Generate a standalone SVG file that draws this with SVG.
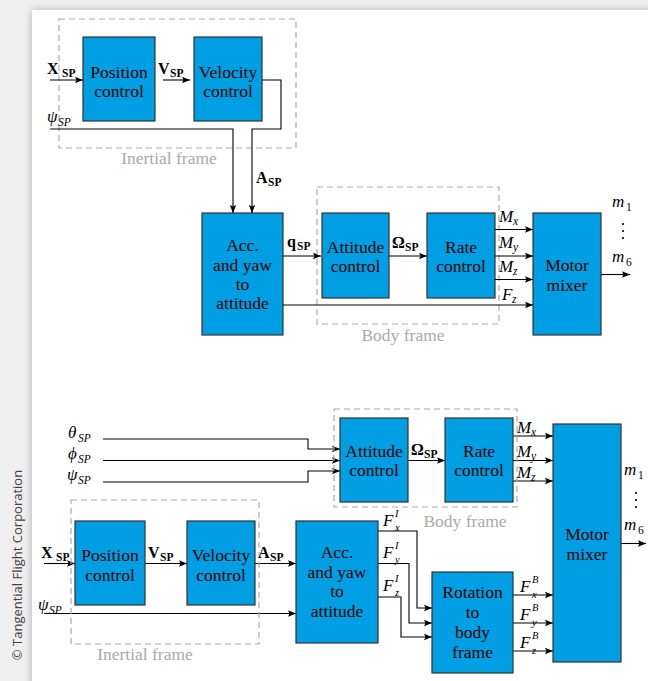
<svg xmlns="http://www.w3.org/2000/svg" width="648" height="681" viewBox="0 0 648 681">
<defs>
<marker id="arr" markerUnits="userSpaceOnUse" markerWidth="10" markerHeight="8" refX="8" refY="4" orient="auto">
<path d="M0,0.8 L8,4 L0,7.2 L1.5,4 z" fill="#000"/>
</marker>
<filter id="sh" x="-5%" y="-5%" width="110%" height="110%"><feGaussianBlur stdDeviation="4"/></filter>
<style>
.box{fill:#009fe3;stroke:#333;stroke-width:1.2}
.frame{fill:none;stroke:#aaa;stroke-width:1.2;stroke-dasharray:6 4}
.c{fill:none;stroke:#000;stroke-width:1.1;marker-end:url(#arr)}
text{font-family:'Liberation Serif','DejaVu Serif','Times New Roman',serif}
.t{font-size:17.5px;fill:#000;text-anchor:middle}
.fl{font-size:17.5px;fill:#aaa;text-anchor:middle}
.mi{font-size:17px;font-style:italic;fill:#000}
.ms{font-size:11.5px;font-style:italic;fill:#000}
.sm{font-size:10.5px;font-style:italic;fill:#000}
.bf{font-size:16px;font-weight:bold;fill:#000}
.bs{font-size:11.5px;font-weight:bold;fill:#000}
text.cp{font-family:'Open Sans','DejaVu Sans',sans-serif;font-size:13px;fill:#444;text-anchor:middle}
</style>
</defs>
<rect x="0" y="0" width="648" height="681" fill="#efefef"/>
<rect x="32" y="10" width="640" height="700" fill="#000" opacity="0.25" filter="url(#sh)"/>
<rect x="32" y="10" width="640" height="700" fill="#fff"/>
<text class="cp" transform="translate(22,565) rotate(-90)">© Tangential Flight Corporation</text>

<g id="top-inertial-frame">
<rect class="frame" x="59" y="19" width="237" height="129"/>
<text class="fl" x="169" y="164">Inertial frame</text>
</g>
<g id="top-body-frame">
<rect class="frame" x="317" y="187" width="182" height="137"/>
<text class="fl" x="403" y="341">Body frame</text>
</g>
<g id="top-position-control">
<rect class="box" x="83" y="37" width="72" height="84"/>
<text class="t" x="119" y="77.5">Position</text>
<text class="t" x="119" y="97">control</text>
</g>
<g id="top-velocity-control">
<rect class="box" x="194" y="37" width="68" height="84"/>
<text class="t" x="228" y="77.5">Velocity</text>
<text class="t" x="228" y="97">control</text>
</g>
<g id="top-acc-yaw">
<rect class="box" x="202" y="213" width="81" height="122"/>
<text class="t" x="242.5" y="251">Acc.</text>
<text class="t" x="242.5" y="270.5">and yaw</text>
<text class="t" x="242.5" y="290">to</text>
<text class="t" x="242.5" y="309">attitude</text>
</g>
<g id="top-attitude-control">
<rect class="box" x="322" y="213" width="67" height="85"/>
<text class="t" x="355.5" y="252.5">Attitude</text>
<text class="t" x="355.5" y="272">control</text>
</g>
<g id="top-rate-control">
<rect class="box" x="427" y="213" width="68" height="85"/>
<text class="t" x="461" y="252.5">Rate</text>
<text class="t" x="461" y="272">control</text>
</g>
<g id="top-motor-mixer">
<rect class="box" x="533" y="213" width="68" height="122"/>
<text class="t" x="567" y="271">Motor</text>
<text class="t" x="567" y="290.5">mixer</text>
</g>

<g id="connectors">
<path class="c" d="M50,80 H83"/>
<path class="c" d="M163,80 H190"/>
<path class="c" d="M262,80 H281 V129 H252 V213"/>
<path class="c" d="M50,129 H233 V213"/>
<path class="c" d="M283,256 H321"/>
<path class="c" d="M389,256 H427"/>
<path class="c" d="M495,229.5 H533"/>
<path class="c" d="M495,256 H533"/>
<path class="c" d="M495,279.5 H533"/>
<path class="c" d="M283,305 H533"/>
<path class="c" d="M601,274.5 H630"/>
<path class="c" d="M103,439 H308 V449 H340"/>
<path class="c" d="M103,460.5 H340"/>
<path class="c" d="M103,482 H308 V471 H340"/>
<path class="c" d="M408,460.5 H445"/>
<path class="c" d="M513,436 H553"/>
<path class="c" d="M513,460.5 H553"/>
<path class="c" d="M513,481 H553"/>
<path class="c" d="M621,543.5 H646"/>
<path class="c" d="M44,563.5 H75"/>
<path class="c" d="M145,563.5 H187"/>
<path class="c" d="M255,563.5 H296"/>
<path class="c" d="M44,613.5 H296"/>
<path class="c" d="M378,531 H417 V608 H432"/>
<path class="c" d="M378,563.5 H409 V623 H432"/>
<path class="c" d="M378,597 H401 V637 H432"/>
<path class="c" d="M513,595 H553"/>
<path class="c" d="M513,623 H553"/>
<path class="c" d="M513,651 H553"/>
</g>

<g id="top-labels">
<text class="bf" x="47" y="74">X</text><text class="bs" x="62" y="77">SP</text>
<text class="bf" x="158" y="74">V</text><text class="bs" x="170" y="77">SP</text>
<text class="mi" x="47" y="122">ψ</text><text class="ms" x="58" y="126">SP</text>
<text class="bf" x="256" y="183">A</text><text class="bs" x="268" y="186">SP</text>
<text class="bf" x="287" y="247">q</text><text class="bs" x="297" y="250">SP</text>
<text class="bf" x="392" y="248">Ω</text><text class="bs" x="405" y="251">SP</text>
<text class="mi" x="499" y="222">M</text><text class="ms" x="513" y="225">x</text>
<text class="mi" x="499" y="248">M</text><text class="ms" x="513" y="251">y</text>
<text class="mi" x="499" y="272">M</text><text class="ms" x="513" y="275">z</text>
<text class="mi" x="502" y="300">F</text><text class="ms" x="512" y="303">z</text>
<text class="mi" x="612" y="207">m</text><text class="ms" x="626" y="211" style="font-style:normal">1</text>
<text class="mi" x="612" y="262">m</text><text class="ms" x="626" y="266" style="font-style:normal">6</text>
<circle cx="623" cy="224" r="1.1"/><circle cx="623" cy="231" r="1.1"/><circle cx="623" cy="238" r="1.1"/>
</g>

<g id="bot-body-frame">
<rect class="frame" x="334" y="409" width="183" height="98"/>
<text class="fl" x="465" y="527">Body frame</text>
</g>
<g id="bot-inertial-frame">
<rect class="frame" x="71" y="500" width="188" height="144"/>
<text class="fl" x="145" y="660">Inertial frame</text>
</g>
<g id="bot-attitude-control">
<rect class="box" x="340" y="418" width="68" height="84"/>
<text class="t" x="374" y="456.5">Attitude</text>
<text class="t" x="374" y="476">control</text>
</g>
<g id="bot-rate-control">
<rect class="box" x="445" y="418" width="68" height="84"/>
<text class="t" x="479" y="456.5">Rate</text>
<text class="t" x="479" y="476">control</text>
</g>
<g id="bot-motor-mixer">
<rect class="box" x="553" y="424" width="68" height="238"/>
<text class="t" x="587" y="540">Motor</text>
<text class="t" x="587" y="559.5">mixer</text>
</g>
<g id="bot-position-control">
<rect class="box" x="75" y="521" width="70" height="84"/>
<text class="t" x="110" y="561">Position</text>
<text class="t" x="110" y="580.5">control</text>
</g>
<g id="bot-velocity-control">
<rect class="box" x="187" y="521" width="68" height="84"/>
<text class="t" x="221" y="561">Velocity</text>
<text class="t" x="221" y="580.5">control</text>
</g>
<g id="bot-acc-yaw">
<rect class="box" x="296" y="521" width="82" height="122"/>
<text class="t" x="337" y="557.5">Acc.</text>
<text class="t" x="337" y="577.5">and yaw</text>
<text class="t" x="337" y="597">to</text>
<text class="t" x="337" y="616.5">attitude</text>
</g>
<g id="bot-rotation">
<rect class="box" x="432" y="572" width="81" height="101"/>
<text class="t" x="472.5" y="597.5">Rotation</text>
<text class="t" x="472.5" y="618">to</text>
<text class="t" x="472.5" y="638">body</text>
<text class="t" x="472.5" y="657.5">frame</text>
</g>

<g id="bottom-labels">
<text class="mi" x="68" y="438">θ</text><text class="ms" x="78" y="442">SP</text>
<text class="mi" x="68" y="459">ϕ</text><text class="ms" x="78" y="463">SP</text>
<text class="mi" x="67" y="480">ψ</text><text class="ms" x="78" y="484">SP</text>
<text class="bf" x="411" y="455">Ω</text><text class="bs" x="424" y="458">SP</text>
<text class="mi" x="517" y="433">M</text><text class="ms" x="531" y="436">x</text>
<text class="mi" x="517" y="457">M</text><text class="ms" x="531" y="460">y</text>
<text class="mi" x="517" y="478">M</text><text class="ms" x="531" y="481">z</text>
<text class="mi" x="624" y="475">m</text><text class="ms" x="638" y="479" style="font-style:normal">1</text>
<text class="mi" x="624" y="530">m</text><text class="ms" x="638" y="534" style="font-style:normal">6</text>
<circle cx="636" cy="493" r="1.1"/><circle cx="636" cy="500" r="1.1"/><circle cx="636" cy="507" r="1.1"/>
<text class="bf" x="41" y="558">X</text><text class="bs" x="56" y="561">SP</text>
<text class="bf" x="148" y="558">V</text><text class="bs" x="160" y="561">SP</text>
<text class="bf" x="258" y="558">A</text><text class="bs" x="270" y="561">SP</text>
<text class="mi" x="38" y="610">ψ</text><text class="ms" x="49" y="614">SP</text>
<text class="mi" x="383" y="526">F</text><text class="sm" x="395" y="517">I</text><text class="sm" x="395" y="531">x</text>
<text class="mi" x="383" y="558">F</text><text class="sm" x="395" y="549">I</text><text class="sm" x="395" y="563">y</text>
<text class="mi" x="383" y="591">F</text><text class="sm" x="395" y="582">I</text><text class="sm" x="395" y="596">z</text>
<text class="mi" x="520" y="592">F</text><text class="sm" x="532" y="583">B</text><text class="sm" x="532" y="598">x</text>
<text class="mi" x="520" y="620">F</text><text class="sm" x="532" y="611">B</text><text class="sm" x="532" y="626">y</text>
<text class="mi" x="520" y="648">F</text><text class="sm" x="532" y="639">B</text><text class="sm" x="532" y="654">z</text>
</g>
</svg>
